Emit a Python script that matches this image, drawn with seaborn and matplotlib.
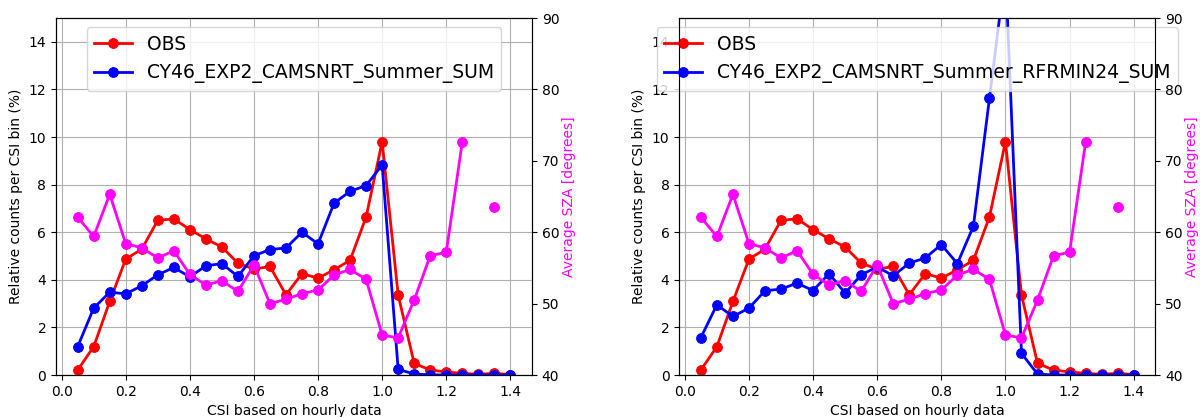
import numpy as np
import pandas as pd
import matplotlib
matplotlib.use("Agg")
import matplotlib.pyplot as plt
import seaborn as sns

# CSI bins (centres)
csi = [0.05, 0.10, 0.15, 0.20, 0.25, 0.30, 0.35, 0.40, 0.45, 0.50,
       0.55, 0.60, 0.65, 0.70, 0.75, 0.80, 0.85, 0.90, 0.95, 1.00,
       1.05, 1.10, 1.15, 1.20, 1.25, 1.30, 1.35, 1.40]

# relative counts per CSI bin (%)
obs = [0.21, 1.19, 3.09, 4.87, 5.29, 6.50, 6.56, 6.11, 5.72, 5.38,
       4.70, 4.45, 4.56, 3.37, 4.26, 4.07, 4.42, 4.82, 6.64, 9.80,
       3.36, 0.49, 0.21, 0.13, 0.07, 0.03, 0.07, 0.02]

exp_sum = [1.19, 2.81, 3.48, 3.41, 3.75, 4.21, 4.52, 4.12, 4.59, 4.68,
           4.14, 5.01, 5.27, 5.34, 6.00, 5.51, 7.22, 7.72, 7.96, 8.83,
           0.24, 0.04, 0.01, 0.0, 0.0, 0.0, 0.0, 0.0]

exp_rfrmin = [1.57, 2.95, 2.46, 2.81, 3.54, 3.61, 3.86, 3.55, 4.26, 3.44,
              4.21, 4.54, 4.17, 4.70, 4.92, 5.48, 4.68, 6.25, 11.62, 17.0,
              0.91, 0.04, 0.0, 0.0, 0.0, 0.0, 0.0, 0.0]

# average solar zenith angle per bin (degrees), gaps where no data
sza = [62.1, 59.4, 65.3, 58.4, 57.8, 56.4, 57.4, 54.1, 52.6, 53.2,
       51.7, 55.4, 50.0, 50.6, 51.4, 51.9, 54.0, 54.8, 53.4, 45.6,
       45.2, 50.5, 56.7, 57.2, 72.6, np.nan, 63.5, np.nan]

exp_names = ["CY46_EXP2_CAMSNRT_Summer_SUM", "CY46_EXP2_CAMSNRT_Summer_RFRMIN24_SUM"]
exp_values = [exp_sum, exp_rfrmin]

# segmentos da curva de SZA (para manter as lacunas)
sza_df = pd.DataFrame({"csi": csi, "sza": sza})
sza_df["seg"] = sza_df["sza"].isna().cumsum()
sza_df = sza_df.dropna()

fig = plt.figure(figsize=(12, 4.17), dpi=100)
ax1 = fig.add_axes([0.0467, 0.1007, 0.3966, 0.8561])
ax2 = fig.add_axes([0.566, 0.1007, 0.3968, 0.8561])

for ax, nome, valores in zip([ax1, ax2], exp_names, exp_values):
    df = pd.DataFrame({"csi": csi, "obs": obs, "exp": valores})
    sns.lineplot(data=df, x="csi", y="obs", ax=ax, color="red", marker="o",
                 markersize=7, mec="red", linewidth=2, label="OBS")
    sns.lineplot(data=df, x="csi", y="exp", ax=ax, color="blue", marker="o",
                 markersize=7, mec="blue", linewidth=2, label=nome)
    ax.set_ylim(0, 15)
    ax.set_yticks([0, 2, 4, 6, 8, 10, 12, 14])
    ax.set_xticks([0.0, 0.2, 0.4, 0.6, 0.8, 1.0, 1.2, 1.4])
    ax.grid(True, color="#b0b0b0", linewidth=0.8)
    ax.set_xlabel("CSI based on hourly data")
    ax.set_ylabel("Relative counts per CSI bin (%)")
    ax.legend(loc="upper center", fontsize=13.5)

    axt = ax.twinx()
    sns.lineplot(data=sza_df, x="csi", y="sza", units="seg", estimator=None,
                 ax=axt, color="magenta", marker="o", markersize=7,
                 mec="magenta", linewidth=2)
    axt.set_ylim(40, 90)
    axt.set_ylabel("Average SZA [degrees]", color="magenta", labelpad=2)
    ax.set_xlim(-0.0175, 1.4675)

fig.savefig("out.png", dpi=100)
